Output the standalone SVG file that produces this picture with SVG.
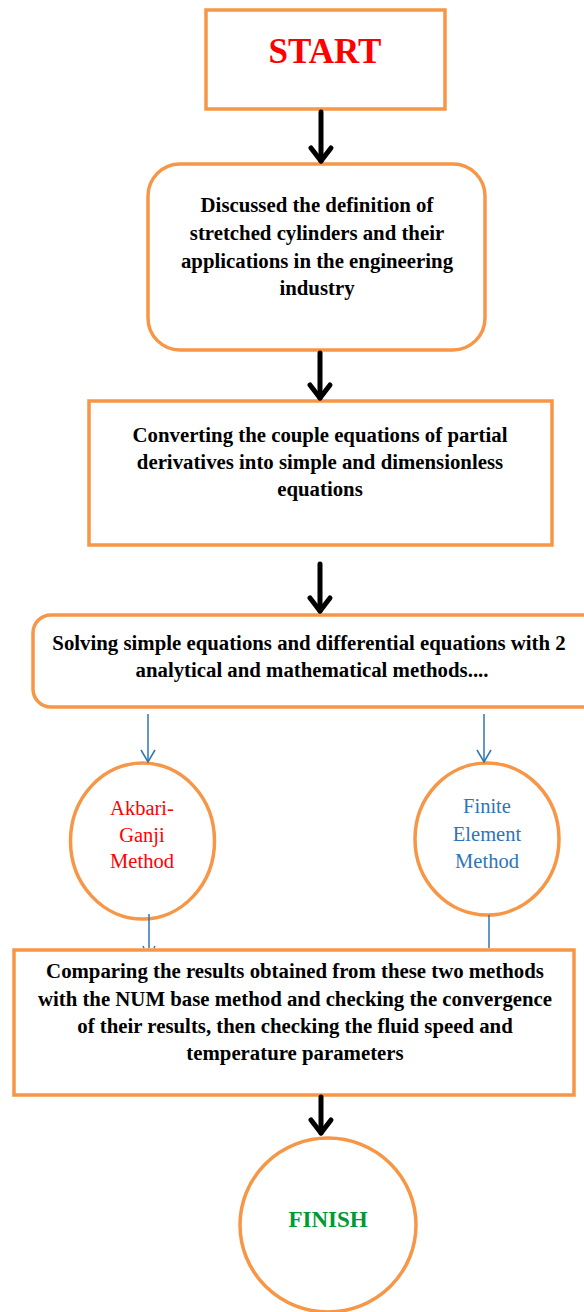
<svg xmlns="http://www.w3.org/2000/svg" width="584" height="1312" viewBox="0 0 584 1312">
<defs>
<style>
.box{fill:#fff;stroke:#F79646;stroke-width:3.5}
.t{font-family:"Liberation Serif","Times New Roman",serif;font-weight:bold;font-size:20.8px;fill:#000;text-anchor:middle}
.c{font-family:"Liberation Serif","Times New Roman",serif;font-size:20.5px;text-anchor:middle}
.blk{stroke:#000;stroke-width:5;fill:none;stroke-linecap:round;stroke-linejoin:round}
.blu{stroke:#2E75B6;stroke-width:1.5;fill:none}
</style>
<marker id="bh" viewBox="-16 -14 20 28" markerWidth="20" markerHeight="28" refX="0" refY="0" markerUnits="userSpaceOnUse" orient="auto" overflow="visible">
<path d="M-13,-10 L0,0 L-13,10" fill="none" stroke="#000" stroke-width="5" stroke-linecap="round" stroke-linejoin="round"/>
</marker>
<marker id="uh" viewBox="-14 -10 16 20" markerWidth="16" markerHeight="20" refX="0" refY="0" markerUnits="userSpaceOnUse" orient="auto" overflow="visible">
<path d="M-12,-7 L0,0 L-12,7" fill="none" stroke="#2E75B6" stroke-width="1.5"/>
</marker>
</defs>
<rect width="584" height="1312" fill="#fff"/>
<g id="start">
<rect class="box" x="206" y="10" width="239" height="99"/>
<text x="325" y="63" font-family="'Liberation Serif','Times New Roman',serif" font-weight="bold" font-size="35" fill="#FF0000" text-anchor="middle">START</text>
</g>
<g id="n1">
<rect class="box" x="148" y="164" width="337" height="186" rx="32"/>
<text class="t" x="317" y="212">Discussed the definition of</text>
<text class="t" x="317" y="240">stretched cylinders and their</text>
<text class="t" x="317" y="268">applications in the engineering</text>
<text class="t" x="317" y="295">industry</text>
</g>
<g id="n2">
<rect class="box" x="89" y="401" width="463" height="144"/>
<text class="t" x="320" y="442">Converting the couple equations of partial</text>
<text class="t" x="320" y="469">derivatives into simple and dimensionless</text>
<text class="t" x="320" y="496">equations</text>
</g>
<g id="n3">
<rect class="box" x="33" y="615" width="580" height="92" rx="18"/>
<text class="t" x="309" y="650">Solving simple equations and differential equations with 2</text>
<text class="t" x="312" y="677">analytical and mathematical methods....</text>
</g>
<g id="m1">
<ellipse class="box" cx="142.5" cy="841" rx="72" ry="78"/>
<text class="c" x="142" y="815" fill="#FF0000">Akbari-</text>
<text class="c" x="142" y="842" fill="#FF0000">Ganji</text>
<text class="c" x="142" y="868" fill="#FF0000">Method</text>
</g>
<g id="m2">
<ellipse class="box" cx="487" cy="839" rx="72" ry="76"/>
<text class="c" x="487" y="813" fill="#2E75B6">Finite</text>
<text class="c" x="487" y="841" fill="#2E75B6">Element</text>
<text class="c" x="487" y="868" fill="#2E75B6">Method</text>
</g>
<g id="n4">
<rect class="box" x="14" y="950" width="560" height="145"/>
<text class="t" x="295" y="978">Comparing the results obtained from these two methods</text>
<text class="t" x="295" y="1006">with the NUM base method and checking the convergence</text>
<text class="t" x="295" y="1033">of their results, then checking the fluid speed and</text>
<text class="t" x="295" y="1060">temperature parameters</text>
</g>
<g id="finish">
<ellipse class="box" cx="328" cy="1225" rx="88" ry="87"/>
<text x="328" y="1227" font-family="'Liberation Serif','Times New Roman',serif" font-weight="bold" font-size="23" fill="#009933" text-anchor="middle">FINISH</text>
</g>
<g id="connectors">
<line class="blk" x1="321" y1="112" x2="321" y2="161" marker-end="url(#bh)"/>
<line class="blk" x1="320" y1="353" x2="320" y2="398" marker-end="url(#bh)"/>
<line class="blk" x1="320" y1="564" x2="320" y2="611" marker-end="url(#bh)"/>
<line class="blk" x1="321" y1="1097" x2="321" y2="1133" marker-end="url(#bh)"/>
<line class="blu" x1="148" y1="714" x2="148" y2="762" marker-end="url(#uh)"/>
<line class="blu" x1="484" y1="714" x2="484" y2="762" marker-end="url(#uh)"/>
<line class="blu" x1="149" y1="914" x2="149" y2="948"/>
<path class="blu" d="M143,946 L144,948 M155,946 L154,948"/>
<line class="blu" x1="489" y1="915" x2="489" y2="948"/>
</g>
</svg>
